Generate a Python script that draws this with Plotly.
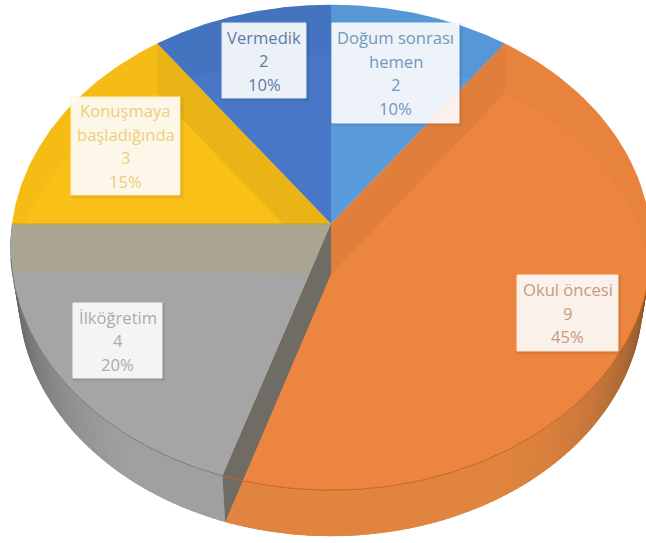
import math
import plotly.graph_objects as go

# ---- data ----
categories = ["Doğum sonrası hemen", "Okul öncesi", "İlköğretim", "Konuşmaya başladığında", "Vermedik"]
values = [2, 9, 4, 3, 2]
label_lines = [["Doğum sonrası", "hemen"], ["Okul öncesi"], ["İlköğretim"], ["Konuşmaya", "başladığında"], ["Vermedik"]]

# ---- styles ----
top_colors = ["#5A9BDB", "#EB8540", "#A5A5A5", "#FBC017", "#4777C6"]
text_colors = ["#7397BC", "#C79A82", "#ABABAB", "#EDCF7C", "#5F7CA8"]
border_colors = ["#EEF4FA", "#FBE6D8", "#F2F2F2", "#FFEFC0", "#E4EAF5"]
# label box: left, right, top, bottom in pixels
boxes = [(332, 459, 23, 123), (517, 618, 275, 351), (73, 162, 303, 378), (71, 180, 97, 195), (222, 306, 23, 98)]

W, H = 646, 543
CX, CY, RX, RY, K = 331, 224, 319, 240.5, 0.0964


def rim(theta):
    """Perspective projection of a point on the pie's rim (theta clockwise from 12 o'clock, degrees)."""
    t = math.radians(theta)
    w = 1 + K * math.cos(t)
    return CX + RX * math.sin(t) / w, CY - RY * math.cos(t) / w


def depth(theta):
    return 48 + 2 * math.cos(math.radians(theta))


def low(theta):
    x, y = rim(theta)
    return x, y + depth(theta)


def low_front(theta):
    # the base of the pie is slightly narrower than its top
    x, y = low(theta)
    return CX + (x - CX) * 0.975, y


def arc(a, b, fn=rim, n=80):
    return [fn(a + (b - a) * i / n) for i in range(n + 1)]


def poly(points, fill):
    xs = [p[0] for p in points] + [points[0][0]]
    ys = [p[1] for p in points] + [points[0][1]]
    return go.Scatter(x=xs, y=ys, mode="lines", fill="toself", fillcolor=fill,
                      line=dict(color=fill, width=0), hoverinfo="skip", showlegend=False)


def mix(c1, c2, f):
    a = [int(c1[i:i + 2], 16) for i in (1, 3, 5)]
    b = [int(c2[i:i + 2], 16) for i in (1, 3, 5)]
    return "#%02x%02x%02x" % tuple(round(a[i] + (b[i] - a[i]) * f) for i in range(3))


total = sum(values)
edges = [0]
for v in values:
    edges.append(edges[-1] + v / total * 360)

fig = go.Figure()
centre = (CX, CY)
centre_low = (CX, CY + 50)

# outer wall, front half: shaded strips, each overlapping the next so no seams show
for i, (a, b) in enumerate(zip(edges[:-1], edges[1:])):
    lo, hi = max(a, 90), min(b, 270)
    if lo >= hi:
        continue
    steps = max(2, int((hi - lo) / 1.2))
    order = range(steps) if i == 2 else range(steps - 1, -1, -1)
    for s in order:
        t0 = lo + (hi - lo) * s / steps
        t1 = lo + (hi - lo) * (s + 1) / steps
        mid = (t0 + t1) / 2
        if i == 1:   # orange, darkens towards the right
            f = min(1, max(0, (150 - mid) / 58))
            col = mix("#E0843F", "#6A4626", f ** 1.6)
            pts = arc(t0, min(t1 + 1.5, hi), rim, 4) + arc(min(t1 + 1.5, hi), t0, low_front, 4)
        else:        # grey, darkens towards the left
            f = min(1, max(0, (mid - 218) / 48))
            col = mix("#A0A0A0", "#585858", f ** 1.2)
            pts = arc(max(t0 - 1.5, lo), t1, rim, 4) + arc(t1, max(t0 - 1.5, lo), low_front, 4)
        fig.add_trace(poly(pts, col))

# top face
for a, b, col in zip(edges[:-1], edges[1:], top_colors):
    fig.add_trace(poly([centre] + arc(a, b), col))

# walls seen through the translucent top
a_orange = edges[1]   # blue / orange
a_grey = edges[2]     # orange / grey
a_left = edges[3]     # grey / yellow
a_yellow = edges[4]   # yellow / blue

# rear outer wall, a faint band inside the rim
for a, b, col in [(a_left, a_yellow, "rgba(120,90,0,0.035)"), (a_yellow, 360, "rgba(0,0,40,0.03)"),
                  (0, a_orange, "rgba(0,0,40,0.025)"), (a_orange, 92, "rgba(120,50,0,0.02)")]:
    fig.add_trace(poly(arc(a, b) + arc(b, a, low), col))

# yellow / blue wall, only inside the yellow slice
p = rim(a_yellow)
pl = low(a_yellow)
frac = (CY - pl[1]) / (centre_low[1] - pl[1])
cut = (pl[0] + (centre_low[0] - pl[0]) * frac, CY)
fig.add_trace(poly([centre, p, pl, cut], "#EBB416"))

# blue / orange wall
fig.add_trace(poly([centre, rim(a_orange), low(a_orange), centre_low], "#E07F3B"))

# grey / yellow wall
fig.add_trace(poly([centre, rim(a_left), low(a_left), centre_low], "#A9A592"))

# orange / grey wall
fig.add_trace(poly([centre, rim(a_grey), low_front(a_grey), centre_low], "#6F6B65"))

# rim highlights
for a, b, col in [(92, a_grey, "#C8651F"), (a_grey, 262, "#7C7C7C")]:
    pts = arc(a, b)
    fig.add_trace(go.Scatter(x=[q[0] for q in pts], y=[q[1] for q in pts], mode="lines",
                             line=dict(color=col, width=1), hoverinfo="skip", showlegend=False))
# thin divider between yellow and the wall below it
q = rim(a_left)
fig.add_trace(go.Scatter(x=[q[0], CX], y=[q[1], CY], mode="lines", line=dict(color="#C49A2E", width=1),
                         hoverinfo="skip", showlegend=False))

# labels
shapes, annotations = [], []
LINE = 23.5
for i, (lines, v) in enumerate(zip(label_lines, values)):
    l, r, t, b = boxes[i]
    for off, alpha in [(4, 0.04), (2, 0.07)]:
        shapes.append(dict(type="rect", xref="x", yref="y", x0=l, x1=r + off, y0=t, y1=b + off,
                           fillcolor=f"rgba(0,0,0,{alpha})", line=dict(width=0), layer="above"))
    shapes.append(dict(type="rect", xref="x", yref="y", x0=l, x1=r, y0=t, y1=b,
                       fillcolor="rgba(255,255,255,0.9)", line=dict(color=border_colors[i], width=1), layer="above"))
    rows = lines + [str(v), f"{v / total * 100:.0f}%"]
    mid_y = (t + b) / 2
    for j, row in enumerate(rows):
        annotations.append(dict(x=(l + r) / 2, y=mid_y + (j - (len(rows) - 1) / 2) * LINE, xref="x", yref="y",
                                text=row, showarrow=False, xanchor="center", yanchor="middle",
                                font=dict(family="Open Sans", size=16.6, color=text_colors[i])))

fig.update_layout(width=W, height=H, autosize=False, margin=dict(l=0, r=0, t=0, b=0),
                  paper_bgcolor="white", plot_bgcolor="white", showlegend=False,
                  xaxis=dict(range=[0, W], visible=False, fixedrange=True),
                  yaxis=dict(range=[H, 0], visible=False, fixedrange=True),
                  shapes=shapes, annotations=annotations)

fig.write_html("out.html", config={"displayModeBar": False},
               post_script="document.body.style.margin='0';document.body.style.overflow='hidden';")
